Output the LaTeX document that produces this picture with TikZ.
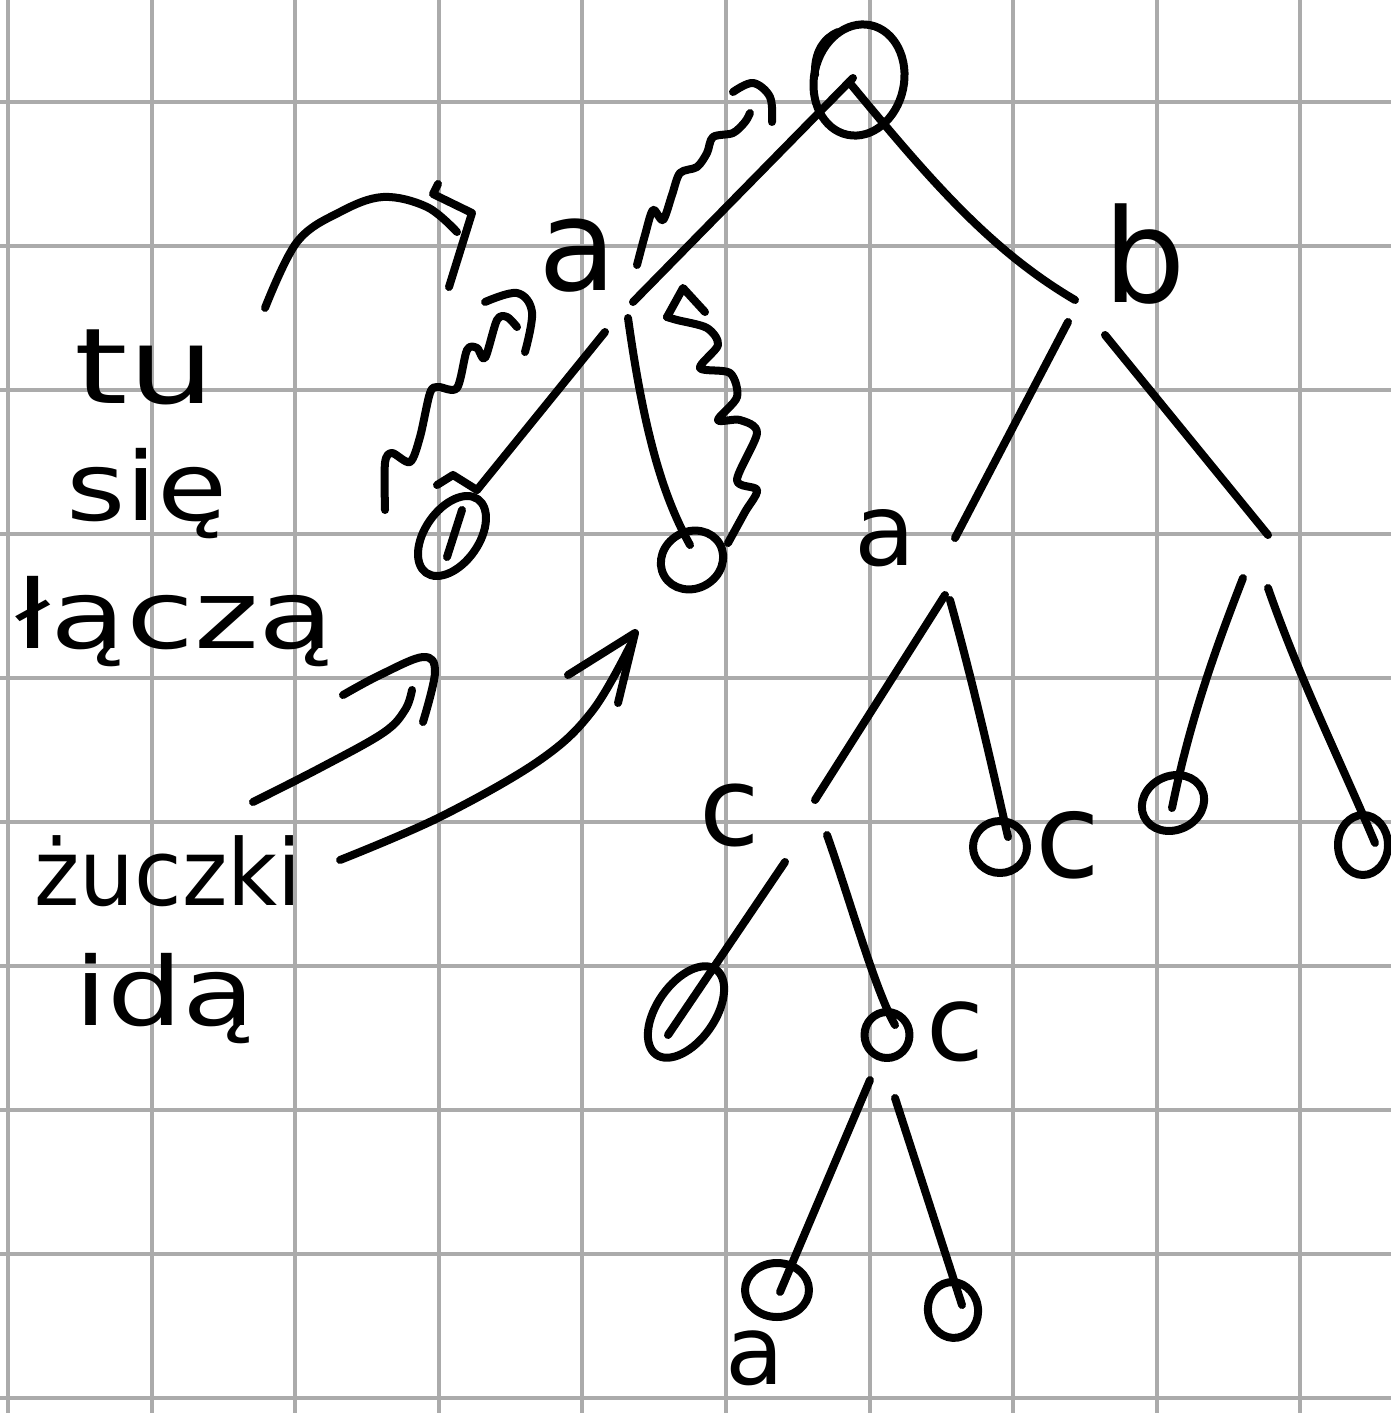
\documentclass[tikz,border=0pt]{standalone}
\usepackage{fontspec}
\setmainfont{DejaVu Sans}
\usetikzlibrary{shapes.geometric}
\begin{document}
\begin{tikzpicture}[x=1pt,y=-1pt,
  ink/.style={line width=8pt, line cap=round, line join=round, draw=black},
  leaf/.style={ellipse, ink, inner sep=0pt},
  lbl/.style={inner sep=0pt, anchor=base, font=\fontsize{110}{120}\selectfont},
  txt/.style={inner sep=0pt, anchor=base},
  gridline/.style={line width=4pt, draw=black!33}]
\fill[white] (0,0) rectangle (1391,1413);
\useasboundingbox (0,0) rectangle (1391,1413);
% grid paper
\foreach \k in {0,...,9} {
  \draw[gridline] ({8+143.6*\k},0) -- ({8+143.6*\k},1413);
  \draw[gridline] (0,{102+144*\k}) -- (1391,{102+144*\k});
}
% ---------- tree nodes ----------
\node[leaf, minimum width=112pt, minimum height=90pt, rotate=78] (root) at (859,80) {};
\node[lbl, font=\fontsize{128}{130}\selectfont] (a1) at (578,290) {a};
\node[lbl, font=\fontsize{130}{130}\selectfont] (b) at (1145,302) {b};
\node[leaf, minimum width=90pt, minimum height=54pt, rotate=55] (L1) at (452,536) {};
\node[leaf, minimum width=64pt, minimum height=57pt, rotate=30] (L2) at (692,560) {};
\node[lbl, font=\fontsize{100}{110}\selectfont] (a2) at (885,565) {a};
\coordinate (j) at (1256,560);
\node[lbl] (c1) at (730,845) {c};
\node[leaf, minimum width=54pt, minimum height=52pt] (L3) at (1000,847) {};
\node[lbl, font=\fontsize{118}{120}\selectfont] (c2) at (1068,877) {c};
\node[leaf, minimum width=64pt, minimum height=54pt, rotate=25] (L6) at (1173,803) {};
\node[leaf, minimum width=50pt, minimum height=60pt] (L7) at (1363,845) {};
\node[leaf, minimum width=104pt, minimum height=58pt, rotate=55] (L4) at (686,1012) {};
\node[leaf, minimum width=45pt, minimum height=46pt] (L5) at (887,1035) {};
\node[lbl, font=\fontsize{105}{110}\selectfont] (c3) at (955,1060) {c};
\node[leaf, minimum width=64pt, minimum height=54pt] (L8) at (777,1290) {};
\node[leaf, minimum width=50pt, minimum height=56pt, rotate=10] (L9) at (953,1310) {};
\node[lbl, font=\fontsize{96}{100}\selectfont] (a3) at (755,1384) {a};
% ---------- tree edges ----------
\draw[ink] (root.center) ++(-6,-2) -- (633,302);
\draw[ink] (root.center) ++(-10,2) .. controls (930,180) and (990,250) .. (1075,300);
\draw[ink] (815,75) .. controls (814,52) and (824,38) .. (838,32);
\draw[ink] (605,332) -- (477,490);
\draw[ink] (437,485) -- (453,475) -- (477,490);
\draw[ink] (462,510) -- (447,557);
\draw[ink] (628,318) .. controls (645,440) and (665,500) .. (690,545);
\draw[ink] (1068,322) -- (955,538);
\draw[ink] (1105,335) -- (1268,535);
\draw[ink] (945,595) -- (815,800);
\draw[ink] (950,600) .. controls (975,690) and (995,780) .. (1008,837);
\draw[ink] (1243,578) .. controls (1215,650) and (1190,720) .. (1172,808);
\draw[ink] (1268,588) .. controls (1300,680) and (1340,760) .. (1375,843);
\draw[ink] (785,862) -- (668,1035);
\draw[ink] (827,835) .. controls (850,900) and (875,990) .. (895,1025);
\draw[ink] (870,1080) -- (780,1292);
\draw[ink] (895,1098) -- (962,1305);
% ---------- wavy arrows ----------
\draw[ink] plot[smooth, tension=0.5] coordinates {(385,510) (385,463) (392,453) (410,462) (420,437) (430,393) (438,387) (457,388) (467,350) (477,348) (485,358) (497,320) (507,317) (517,327)};
\draw[ink] plot[smooth, tension=0.6] coordinates {(485,302) (517,293) (532,312) (525,352)};
\draw[ink] plot[smooth, tension=0.5] coordinates {(637,265) (645,235) (653,210) (663,220) (672,195) (680,173) (697,167) (707,153) (713,137) (733,133) (745,122) (750,113)};
\draw[ink] plot[smooth, tension=0.6] coordinates {(733,92) (753,83) (770,97) (772,122)};
\draw[ink] plot[smooth, tension=0.5] coordinates {(728,543) (745,512) (757,490) (737,480) (757,433) (740,420) (718,420) (737,397) (730,373) (700,368) (718,345) (707,328) (677,320) (667,317)};
\draw[ink] (667,317) -- (683,288) -- (705,312);
% ---------- side notes ----------
\node[txt, font=\fontsize{105}{110}\selectfont\addfontfeature{FakeStretch=1.3}] (t1) at (145,403) {tu};
\node[txt, font=\fontsize{95}{110}\selectfont\addfontfeature{FakeStretch=1.2}] (t2) at (147,520) {się};
\node[txt, font=\fontsize{95}{110}\selectfont\addfontfeature{FakeStretch=1.3}] (t3) at (175,648) {łączą};
\node[txt, font=\fontsize{92}{110}\selectfont\addfontfeature{FakeStretch=0.94}] (t4) at (168,905) {żuczki};
\node[txt, font=\fontsize{95}{110}\selectfont\addfontfeature{FakeStretch=1.25}] (t5) at (165,1025) {idą};
% arrow from "tu"
\draw[ink] plot[smooth, tension=0.6] coordinates {(265,308) (297,242) (340,212) (383,197) (427,207) (457,232)};
\draw[ink] (438,184) -- (433,194) -- (472,213) -- (449,287);
% arrows from "żuczki"
\draw[ink] plot[smooth, tension=0.6] coordinates {(253,802) (320,768) (383,733) (405,710) (412,690)};
\draw[ink] plot[smooth, tension=0.6] coordinates {(343,695) (380,675) (423,657) (435,672) (423,722)};
\draw[ink] plot[smooth, tension=0.6] coordinates {(340,860) (440,817) (540,760) (593,710) (633,640)};
\draw[ink] (568,675) -- (635,633) -- (618,703);
\end{tikzpicture}
\end{document}
